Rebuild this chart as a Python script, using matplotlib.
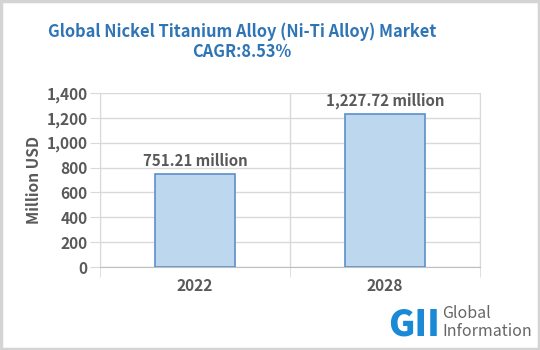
import matplotlib
matplotlib.use("Agg")
import matplotlib.pyplot as plt
from matplotlib.patches import Rectangle

plt.rcParams['font.family'] = ['Noto Sans CJK JP', 'DejaVu Sans']

years = ['2022', '2028']
values = [751.21, 1227.72]
bar_labels = ['751.21 million', '1,227.72 million']
yticks = [0, 200, 400, 600, 800, 1000, 1200, 1400]

W, H = 540, 350
fig = plt.figure(figsize=(W / 100, H / 100), dpi=100)

# grey frame round the picture
fig.patches.append(Rectangle((0.002, 0.003), 0.996, 0.994, transform=fig.transFigure,
                             fill=False, edgecolor='#d4d4d4', linewidth=2.5))

ax = fig.add_axes([100 / W, (H - 267) / H, 380 / W, 174 / H])
x = range(len(years))
ax.bar(x, values, width=0.42, color='#bdd7ee', edgecolor='#5b8fc9', linewidth=1.2, zorder=3)
for i, v in enumerate(values):
    ax.text(i, v + 40, bar_labels[i], ha='center', va='bottom', fontsize=10.8,
            color='#595959', fontweight='bold')

ax.set_xlim(-0.5, 1.5)
ax.set_ylim(0, 1400)
ax.set_yticks(yticks)
ax.set_yticklabels([f'{t:,}' for t in yticks])
ax.set_xticks(list(x))
ax.set_xticklabels(years)
ax.set_xticks([-0.5, 0.5, 1.5], minor=True)
ax.grid(axis='y', color='#d9d9d9', linewidth=1, zorder=0)
ax.grid(axis='x', which='minor', color='#d9d9d9', linewidth=1, zorder=0)
ax.spines['top'].set_visible(False)
ax.spines['left'].set_color('#d9d9d9')
ax.spines['right'].set_color('#d9d9d9')
ax.spines['bottom'].set_color('#bfbfbf')
ax.tick_params(axis='y', colors='#d9d9d9', length=7, labelcolor='#595959', labelsize=11.2, pad=2)
ax.tick_params(axis='x', which='major', length=0, labelcolor='#595959', labelsize=11.2, pad=8)
ax.tick_params(axis='x', which='minor', length=7, color='#d9d9d9')
for lab in ax.get_xticklabels() + ax.get_yticklabels():
    lab.set_fontweight('bold')
ax.set_ylabel('Million USD', fontsize=11.2, color='#595959', fontweight='bold', labelpad=3)

fig.text(242 / W, 1 - 32 / H, 'Global Nickel Titanium Alloy (Ni-Ti Alloy) Market',
         ha='center', va='center', fontsize=11.8, color='#2e75b6', fontweight='bold')
fig.text(242 / W, 1 - 52 / H, 'CAGR:8.53%', ha='center', va='center', fontsize=11.8,
         color='#2e75b6', fontweight='bold')

# logo
fig.text(388 / W, 1 - 324 / H, 'GII', ha='left', va='center', fontsize=26,
         color='#1a8ad6', fontweight='heavy')
fig.text(442 / W, 1 - 313 / H, 'Global', ha='left', va='center', fontsize=11.5,
         color='#666666')
fig.text(442 / W, 1 - 331 / H, 'Information', ha='left', va='center', fontsize=11.5,
         color='#666666')

fig.savefig('out.png', dpi=100)
